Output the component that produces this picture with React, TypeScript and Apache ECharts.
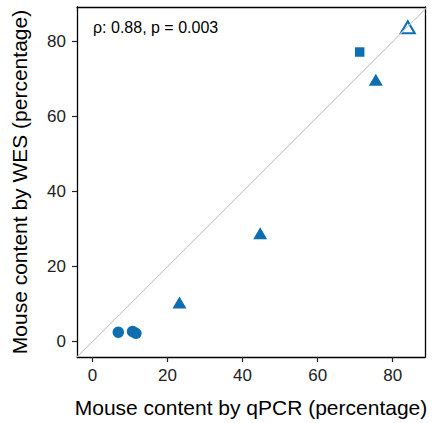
import React, { useEffect, useRef } from "react";
import * as echarts from "echarts";

const xTicks = [0, 20, 40, 60, 80];
const yTicks = [0, 20, 40, 60, 80];
const circlePts: [number, number][] = [[6.9, 2.5], [10.7, 2.7], [11.6, 2.2]];
const squarePts: [number, number][] = [[71.2, 77.2]];
const trianglePts: [number, number][] = [[23.2, 10.4], [44.7, 28.9], [75.5, 69.8]];
const openTrianglePts: [number, number][] = [[84.0, 83.8]];
const refLine: [number, number][] = [[-10, -10], [100, 100]];
const annotation = "ρ: 0.88, p = 0.003";

const COLOR = "#0F6EB0";
const FONT = "Liberation Sans, Arial, sans-serif";

export default function App() {
  const ref = useRef<HTMLDivElement>(null);
  useEffect(() => {
    document.body.style.margin = "0";
    if (!ref.current) return;
    const chart = echarts.init(ref.current, undefined, { renderer: "svg" });
    const tick = { show: true, inside: false, length: 5, lineStyle: { color: "#222", width: 1.2 } };
    const line = { show: true, onZero: false, lineStyle: { color: "#000", width: 1.3 } };
    const nameStyle = { fontSize: 21, color: "#000", fontFamily: FONT };
    chart.setOption({
      animation: false,
      grid: {
        left: 77, top: 7, width: 348, height: 350,
        containLabel: false, outerBoundsMode: "none",
      },
      xAxis: [
        {
          type: "value", min: -4.1, max: 88.6, splitLine: { show: false },
          axisLine: line,
          name: "Mouse content by qPCR (percentage)", nameLocation: "middle", nameGap: 40, nameTextStyle: nameStyle,
          axisTick: { ...tick, customValues: xTicks },
          axisLabel: { customValues: xTicks, fontSize: 17, color: "#222", margin: 10, fontFamily: FONT },
        },
        {
          type: "value", position: "top", min: -4.1, max: 88.6, splitLine: { show: false },
          axisLine: line, axisTick: { show: false }, axisLabel: { show: false },
        },
      ],
      yAxis: [
        {
          type: "value", min: -4.1, max: 89.2, splitLine: { show: false },
          axisLine: line,
          name: "Mouse content by WES (percentage)", nameLocation: "middle", nameGap: 47, nameTextStyle: nameStyle,
          axisTick: { ...tick, customValues: yTicks },
          axisLabel: { customValues: yTicks, fontSize: 17, color: "#222", margin: 11, fontFamily: FONT },
        },
        {
          type: "value", position: "right", min: -4.1, max: 89.2, splitLine: { show: false },
          axisLine: line, axisTick: { show: false }, axisLabel: { show: false },
        },
      ],
      graphic: [
        {
          type: "text", x: 93, y: 27,
          style: { text: annotation, fill: "#000", font: `16px ${FONT}`, verticalAlign: "middle", align: "left" },
        },
      ],
      series: [
        {
          type: "line", data: refLine, symbol: "none", clip: true, silent: true,
          lineStyle: { color: "#cccccc", width: 1.1 },
        },
        { type: "scatter", data: circlePts, symbol: "circle", symbolSize: 11.5, itemStyle: { color: COLOR, opacity: 1 } },
        { type: "scatter", data: squarePts, symbol: "rect", symbolSize: 9.5, itemStyle: { color: COLOR, opacity: 1 } },
        { type: "scatter", data: trianglePts, symbol: "triangle", symbolSize: [14, 12], itemStyle: { color: COLOR, opacity: 1 } },
        {
          type: "scatter", data: openTrianglePts, symbol: "emptyTriangle", symbolSize: [14, 12],
          itemStyle: { color: COLOR, borderColor: COLOR, borderWidth: 1.6, opacity: 1 },
        },
      ],
    });
    return () => chart.dispose();
  }, []);
  return <div ref={ref} style={{ width: 432, height: 423 }} />;
}
